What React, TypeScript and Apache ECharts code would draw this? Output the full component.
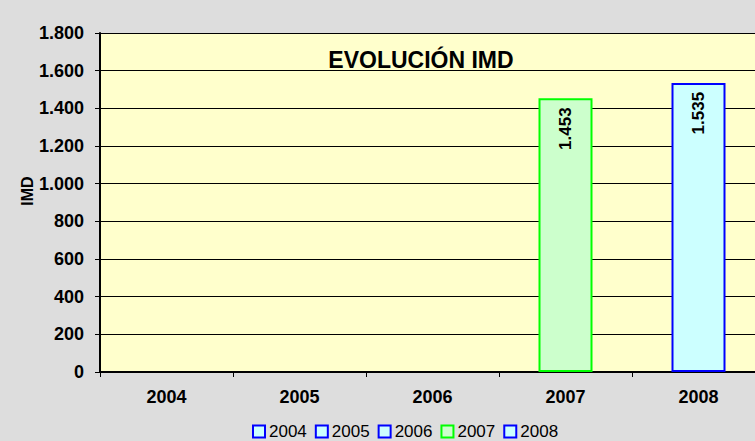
import React, { useEffect, useRef } from "react";
import * as echarts from "echarts";

const categories = ["2004", "2005", "2006", "2007", "2008"];
const values: (number | null)[] = [null, null, null, 1453, 1535];
const fills = ["#ccffff", "#ccffff", "#ccffff", "#ccffcc", "#ccffff"];
const borders = ["#0000ff", "#0000ff", "#0000ff", "#00ff00", "#0000ff"];

const fmt = (v: number) => {
  const s = Math.round(v).toString();
  return s.replace(/\B(?=(\d{3})+(?!\d))/g, ".");
};

export default function App() {
  const ref = useRef<HTMLDivElement>(null);
  useEffect(() => {
    if (!ref.current) return;
    const chart = echarts.init(ref.current, undefined, { renderer: "svg" });
    const font = "'Liberation Sans', Arial, sans-serif";
    const series = categories.map((c, i) => ({
      name: c,
      type: "bar",
      stack: "all",
      barWidth: 54,
      data: categories.map((_, j) => (j === i ? values[j] : null)),
      itemStyle: { color: fills[i], borderColor: borders[i], borderWidth: 2 },
      label: {
        show: true,
        position: "insideTop",
        rotate: 90,
        align: "right",
        verticalAlign: "middle",
        distance: 9,
        fontFamily: font,
        fontWeight: "bold",
        fontSize: 17,
        color: "#000",
        formatter: (p: any) => fmt(p.value),
      },
    }));
    chart.setOption({
      animation: false,
      backgroundColor: "#dddddd",
      textStyle: { fontFamily: font },
      graphic: [
        {
          type: "text",
          x: 421,
          y: 60,
          z: 100,
          style: {
            text: "EVOLUCIÓN IMD",
            align: "center",
            verticalAlign: "middle",
            font: `bold 23px ${font}`,
            fill: "#000",
          },
        },
        {
          type: "text",
          x: 27,
          y: 191,
          rotation: Math.PI / 2,
          z: 100,
          style: {
            text: "IMD",
            align: "center",
            verticalAlign: "middle",
            font: `bold 16px ${font}`,
            fill: "#000",
          },
        },
      ],
      grid: {
        left: 100,
        top: 33,
        width: 665,
        height: 339,
        show: true,
        backgroundColor: "#ffffcc",
        borderWidth: 0,
      },
      legend: {
        left: 252,
        top: 423,
        padding: 0,
        icon: "rect",
        itemWidth: 12,
        itemHeight: 12,
        itemGap: 8,
        textStyle: { fontSize: 17, color: "#000", fontFamily: font, padding: [0, 0, 0, -1] },
        data: categories.map((c, i) => ({
          name: c,
          itemStyle: { color: fills[i], borderColor: borders[i], borderWidth: 2 },
        })),
      },
      xAxis: {
        type: "category",
        data: categories,
        axisLine: { show: true, lineStyle: { color: "#000", width: 2 } },
        axisTick: { show: true, inside: false, length: 5, lineStyle: { color: "#000" } },
        axisLabel: { fontWeight: "bold", fontSize: 18, color: "#000", margin: 16, fontFamily: font },
        splitLine: { show: false },
      },
      yAxis: {
        type: "value",
        min: 0,
        max: 1800,
        interval: 200,
        axisLine: { show: true, lineStyle: { color: "#000", width: 2 } },
        axisTick: { show: true, length: 5, lineStyle: { color: "#000" } },
        axisLabel: {
          fontWeight: "bold",
          fontSize: 18,
          color: "#000",
          margin: 16,
          fontFamily: font,
          formatter: (v: number) => fmt(v),
        },
        splitLine: { show: true, lineStyle: { color: "#000", width: 1 } },
      },
      series,
    });
    return () => chart.dispose();
  }, []);
  return (
    <div style={{ position: "fixed", left: 0, top: 0, width: 755, height: 441, overflow: "hidden" }}>
      <div ref={ref} style={{ width: 780, height: 441 }} />
    </div>
  );
}
